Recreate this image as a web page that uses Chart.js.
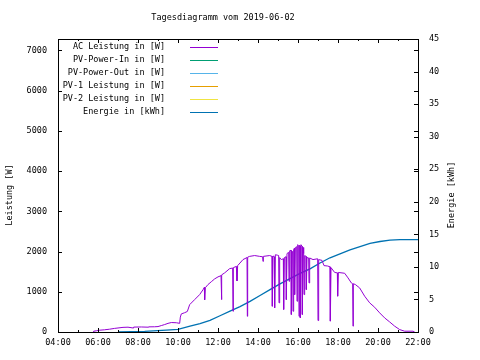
<!DOCTYPE html>
<html lang="de">
<head>
<meta charset="utf-8">
<title>Tagesdiagramm</title>
<script src="https://cdn.jsdelivr.net/npm/chart.js@4.4.1/dist/chart.umd.min.js"></script>
<style>
  html, body { margin: 0; padding: 0; background: #fff; }
  #diagramm { display: block; }
</style>
</head>
<body>
<canvas id="diagramm" width="480" height="360"></canvas>
<script>
// ==============================================
// Tagesdiagramm - Leistung und Energie
// ==============================================

const titel = 'Tagesdiagramm vom 2019-06-02';
const achseLinks = 'Leistung [W]';
const achseRechts = 'Energie [kWh]';

// Reihen in Legendenreihenfolge
const reihenNamen = [
    'AC Leistung in [W]',
    'PV-Power-In in [W]',
    'PV-Power-Out in [W]',
    'PV-1 Leistung in [W]',
    'PV-2 Leistung in [W]',
    'Energie in [kWh]'
];
const reihenFarben = ['#9400d3', '#009e73', '#56b4e9', '#e69f00', '#f0e442', '#0072b2'];

// AC Leistung (Uhrzeit, Watt)
const acZeit = [
    '05:45', '05:47', '05:55', '06:05', '06:20', '06:35', '06:50', '07:00', '07:15', '07:30',
    '07:45', '07:47', '08:10', '08:30', '08:32', '08:50', '09:00', '09:10', '09:20', '09:30',
    '09:40', '09:55', '10:05', '10:07', '10:10', '10:20', '10:28', '10:35', '10:50', '11:05',
    '11:15', '11:19', '11:20', '11:22', '11:30', '11:40', '11:50', '12:00', '12:09', '12:10',
    '12:12', '12:20', '12:35', '12:44', '12:45', '12:46', '12:55', '12:57', '12:59', '13:15',
    '13:27', '13:28', '13:29', '13:35', '13:50', '14:05', '14:14', '14:15', '14:16', '14:35',
    '14:42', '14:43', '14:45', '14:49', '14:50', '14:52', '14:58', '15:02', '15:03', '15:05',
    '15:10', '15:16', '15:17', '15:19', '15:24', '15:25', '15:27', '15:32', '15:33', '15:35',
    '15:39', '15:40', '15:42', '15:44', '15:45', '15:47', '15:49', '15:50', '15:52', '15:56',
    '15:57', '15:59', '16:02', '16:03', '16:05', '16:06', '16:07', '16:09', '16:12', '16:13',
    '16:15', '16:17', '16:18', '16:20', '16:24', '16:25', '16:27', '16:32', '16:33', '16:35',
    '16:45', '16:59', '17:00', '17:02', '17:12', '17:18', '17:29', '17:36', '17:37', '17:39',
    '17:50', '17:58', '17:59', '18:01', '18:20', '18:30', '18:40', '18:44', '18:45', '18:46',
    '18:52', '19:05', '19:20', '19:35', '19:50', '20:05', '20:20', '20:35', '20:50', '21:05',
    '21:20', '21:45', '21:50'
];
const acWatt = [
    0, 20, 30, 45, 55, 70, 90, 100, 115, 120,
    100, 122, 125, 120, 128, 130, 135, 160, 185, 215,
    235, 230, 215, 370, 450, 480, 510, 680, 805, 930,
    1050, 1110, 800, 1100, 1180, 1250, 1320, 1370, 1400, 805,
    1420, 1470, 1575, 1590, 515, 1600, 1630, 1270, 1650, 1800,
    1850, 390, 1860, 1880, 1900, 1880, 1870, 1755, 1880, 1900,
    1880, 640, 1890, 1870, 600, 1920, 1910, 1900, 725, 1850,
    1800, 1820, 560, 1850, 1870, 805, 1950, 1980, 1260, 2020,
    2030, 435, 2000, 1990, 515, 2050, 2080, 930, 2100, 2120,
    765, 2170, 2150, 390, 2160, 2140, 350, 2170, 2130, 435,
    2100, 1950, 930, 1900, 1880, 1055, 1850, 1840, 1220, 1840,
    1800, 1820, 285, 1800, 1780, 1650, 1640, 1620, 270, 1600,
    1480, 1470, 890, 1480, 1460, 1345, 1220, 1200, 145, 1200,
    1180, 1095, 890, 725, 615, 475, 350, 250, 145, 60,
    20, 20, 0
];

// Energie (Uhrzeit, kWh)
const energieZeit = [
    '07:00', '08:20', '09:25', '10:00', '10:36', '11:06', '11:36', '12:06', '12:36', '13:06',
    '13:36', '14:06', '14:36', '15:06', '15:36', '16:06', '16:36', '17:06', '17:36', '18:06',
    '18:36', '19:06', '19:36', '20:06', '20:36', '21:06', '22:00'
];
const energieKWh = [
    0, 0.1, 0.3, 0.4, 0.9, 1.3, 1.8, 2.5, 3.2, 3.9,
    4.7, 5.6, 6.5, 7.4, 8.2, 9.0, 9.7, 10.6, 11.4, 12.0,
    12.6, 13.1, 13.6, 13.9, 14.1, 14.2, 14.2
];

// Achsen
const zeitMin = 4, zeitMax = 22, zeitSchritt = 2;
const wattMax = 7283;
const wattTicks = [0, 1000, 2000, 3000, 4000, 5000, 6000, 7000];
const kwhMax = 45;
const kwhTicks = [0, 5, 10, 15, 20, 25, 30, 35, 40, 45];

const SCHRIFT = 'DejaVu Sans Mono';

const Diagramm = {
    chart: null,

    /**
     * "HH:MM" in Stunden umrechnen
     */
    stunden: function(zeit) {
        let teile = zeit.split(':');
        return parseInt(teile[0], 10) + parseInt(teile[1], 10) / 60;
    },

    punkte: function(zeiten, werte) {
        return zeiten.map((z, i) => ({ x: this.stunden(z), y: werte[i] }));
    },

    /**
     * Rahmen, Ticks nach innen, Titel, Legende (wie gnuplot)
     */
    rahmenPlugin: {
        id: 'gnuplotRahmen',
        afterDraw: function(chart) {
            let ctx = chart.ctx;
            let a = chart.chartArea;
            let sx = chart.scales.x, sy = chart.scales.y, sy2 = chart.scales.y2;
            ctx.save();
            ctx.strokeStyle = '#000';
            ctx.lineWidth = 1;

            // Ticks
            ctx.beginPath();
            for (let h = zeitMin; h <= zeitMax; h++) {
                let px = Math.round(sx.getPixelForValue(h)) + 0.5;
                let len = (h % 2 === 0) ? 4 : 2;
                ctx.moveTo(px, a.bottom); ctx.lineTo(px, a.bottom - len);
                ctx.moveTo(px, a.top); ctx.lineTo(px, a.top + len);
            }
            wattTicks.forEach(w => {
                let py = Math.round(sy.getPixelForValue(w)) + 0.5;
                ctx.moveTo(a.left, py); ctx.lineTo(a.left + 4, py);
                ctx.moveTo(a.right, py); ctx.lineTo(a.right - 4, py);
            });
            kwhTicks.forEach(k => {
                let py = Math.round(sy2.getPixelForValue(k)) + 0.5;
                ctx.moveTo(a.right, py); ctx.lineTo(a.right - 4, py);
            });
            ctx.stroke();

            // Rahmen
            ctx.strokeRect(Math.round(a.left) + 0.5, Math.round(a.top) + 0.5,
                Math.round(a.right - a.left), Math.round(a.bottom - a.top));

            ctx.fillStyle = '#000';
            ctx.font = '8.5px "' + SCHRIFT + '"';
            ctx.textBaseline = 'middle';

            // Titel
            ctx.textAlign = 'center';
            ctx.fillText(titel, 223, 18);

            // Achsentitel
            ctx.save();
            ctx.translate(10, 195);
            ctx.rotate(-Math.PI / 2);
            ctx.fillText(achseLinks, 0, 0);
            ctx.restore();
            ctx.save();
            ctx.translate(452, 195);
            ctx.rotate(-Math.PI / 2);
            ctx.fillText(achseRechts, 0, 0);
            ctx.restore();

            // Legende
            chart.data.datasets.forEach((ds, i) => {
                let y = 47 + i * 13;
                ctx.textAlign = 'right';
                ctx.fillStyle = '#000';
                ctx.fillText(ds.label, 165, y);
                ctx.beginPath();
                ctx.strokeStyle = ds.borderColor;
                ctx.lineWidth = 1;
                ctx.moveTo(190, y + 0.5);
                ctx.lineTo(218, y + 0.5);
                ctx.stroke();
            });
            ctx.restore();
        }
    },

    init: function() {
        let datasets = reihenNamen.map((name, i) => ({
            label: name,
            data: [],
            borderColor: reihenFarben[i],
            backgroundColor: reihenFarben[i],
            borderWidth: 1,
            pointRadius: 0,
            tension: 0,
            yAxisID: 'y'
        }));
        datasets[0].data = this.punkte(acZeit, acWatt);
        datasets[5].data = this.punkte(energieZeit, energieKWh);
        datasets[5].yAxisID = 'y2';
        datasets[5].borderWidth = 1.3;

        let tickFont = { family: SCHRIFT, size: 8.5 };
        let ctx = document.getElementById('diagramm').getContext('2d');
        this.chart = new Chart(ctx, {
            type: 'line',
            data: { datasets: datasets },
            options: {
                responsive: false,
                animation: false,
                devicePixelRatio: 1,
                events: [],
                layout: { padding: { top: 39, left: 0, right: 0, bottom: 0 } },
                plugins: {
                    legend: { display: false },
                    title: { display: false },
                    tooltip: { enabled: false }
                },
                scales: {
                    x: {
                        type: 'linear',
                        min: zeitMin,
                        max: zeitMax,
                        grid: { display: false, drawTicks: false },
                        border: { display: false },
                        afterFit: (s) => { s.height = 28; },
                        ticks: {
                            stepSize: zeitSchritt,
                            maxRotation: 0,
                            autoSkip: false,
                            padding: 6,
                            color: '#000',
                            font: tickFont,
                            callback: (v) => String(v).padStart(2, '0') + ':00'
                        }
                    },
                    y: {
                        position: 'left',
                        min: 0,
                        max: wattMax,
                        grid: { display: false, drawTicks: false },
                        border: { display: false },
                        afterFit: (s) => { s.width = 58; },
                        afterBuildTicks: (s) => { s.ticks = wattTicks.map(v => ({ value: v })); },
                        ticks: {
                            padding: 11,
                            color: '#000',
                            font: tickFont,
                            callback: (v) => String(v)
                        }
                    },
                    y2: {
                        position: 'right',
                        min: 0,
                        max: kwhMax,
                        grid: { display: false, drawTicks: false },
                        border: { display: false },
                        afterFit: (s) => { s.width = 62; },
                        afterBuildTicks: (s) => { s.ticks = kwhTicks.map(v => ({ value: v })); },
                        ticks: {
                            padding: 11,
                            color: '#000',
                            font: tickFont,
                            callback: (v) => String(v)
                        }
                    }
                }
            },
            plugins: [this.rahmenPlugin]
        });
    }
};

Diagramm.init();
</script>
</body>
</html>
